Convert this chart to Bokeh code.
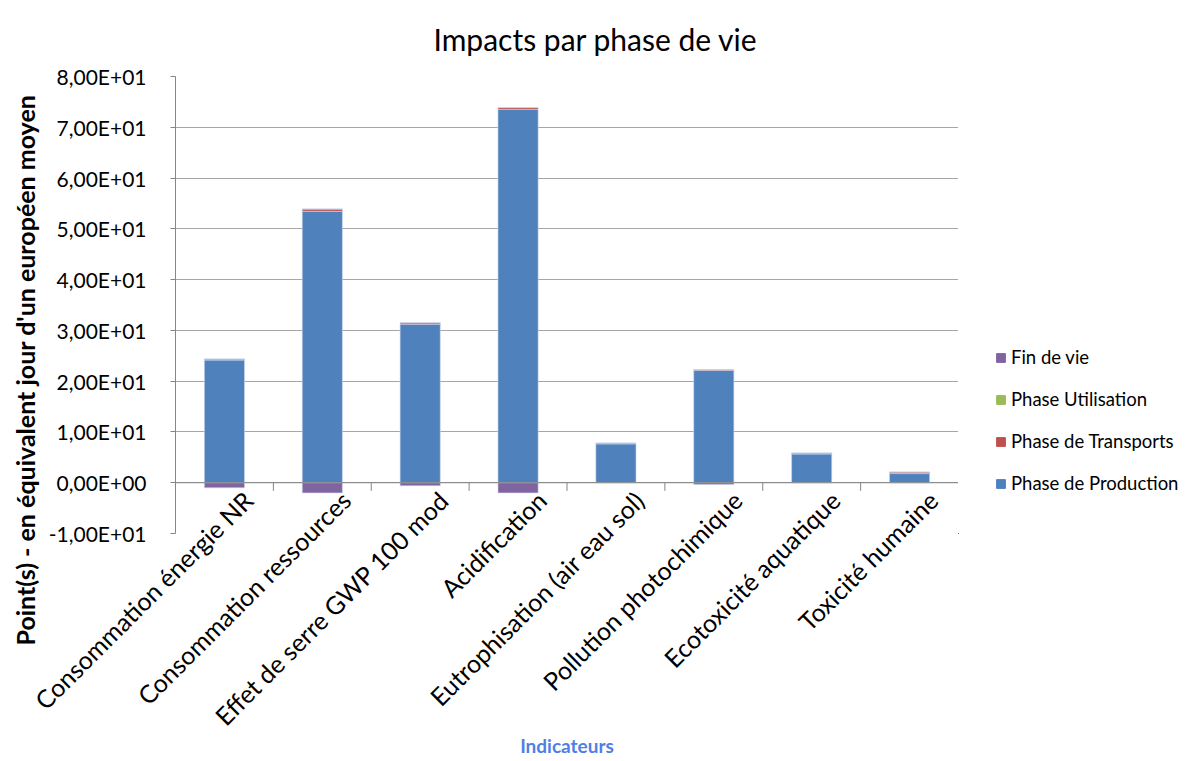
from math import pi
from bokeh.plotting import figure
from bokeh.layouts import row
from bokeh.models import (ColumnDataSource, Range1d, FixedTicker, Legend,
                          LegendItem, Title, Span)
from bokeh.embed import file_html
from bokeh.resources import INLINE

categories = ["Consommation énergie NR", "Consommation ressources", "Effet de serre GWP 100 mod",
              "Acidification", "Eutrophisation (air eau sol)", "Pollution photochimique",
              "Ecotoxicité aquatique", "Toxicité humaine"]
production = [24.15, 53.45, 31.2, 73.55, 7.65, 22.1, 5.65, 1.8]
transports = [0.2, 0.45, 0.3, 0.35, 0.15, 0.2, 0.2, 0.3]
utilisation = [0, 0, 0, 0, 0, 0, 0, 0]
fin_de_vie = [-1.0, -2.0, -0.6, -2.0, 0.0, -0.35, 0.0, 0.0]

series_names = ["Phase de Production", "Phase de Transports", "Phase Utilisation", "Fin de vie"]
series_colors = ["#4F81BD", "#C0504D", "#9BBB59", "#8064A2"]

y_ticks = [-10, 0, 10, 20, 30, 40, 50, 60, 70, 80]
y_tick_labels = ["-1,00E+01", "0,00E+00", "1,00E+01", "2,00E+01", "3,00E+01",
                 "4,00E+01", "5,00E+01", "6,00E+01", "7,00E+01", "8,00E+01"]

title_text = "Impacts par phase de vie"
y_label_text = "Point(s)  - en équivalent jour d'un européen moyen"
x_label_text = "Indicateurs"

FONT = "Lato"
n = len(categories)
xpos = [i + 0.5 for i in range(n)]          # category slot centres
bounds = list(range(n + 1))                  # category slot boundaries
label_shift = 0.24                           # labels end slightly right of centre
label_pos = [round(x + label_shift, 3) for x in xpos]

src = ColumnDataSource(dict(x=xpos, cat=categories, prod=production, trans=transports,
                            util=utilisation, fin=fin_de_vie, zero=[0] * n))
bsrc = ColumnDataSource(dict(b=bounds, zero=[0] * (n + 1)))

p = figure(width=958, height=761, x_range=Range1d(0, n),
           y_range=Range1d(-10, 80), output_backend="svg", toolbar_location=None,
           min_border_left=175, min_border_right=0, min_border_top=76, min_border_bottom=228)
p.outline_line_color = None
p.background_fill_color = "white"
p.border_fill_color = "white"

p.title.text = title_text
p.title.align = "left"
p.title.offset = 258
p.title.vertical_align = "top"
p.title.standoff = 36
p.title.text_font = FONT
p.title.text_font_style = "normal"
p.title.text_font_size = "30px"
p.title.text_color = "black"

stack = p.vbar_stack(["prod", "trans", "util"], x="x", width=0.41, source=src,
                     color=series_colors[:3], line_color="#C9D7EA", line_width=0.6)
neg = p.vbar(x="x", top="fin", bottom="zero", width=0.41, source=src,
             color=series_colors[3], line_color="#C9D7EA", line_width=0.6)

# y axis
p.xgrid.visible = False
p.ygrid.grid_line_color = "#A6A6A6"
p.ygrid.grid_line_width = 1
p.yaxis.ticker = FixedTicker(ticks=y_ticks)
p.yaxis.major_label_overrides = {t: l for t, l in zip(y_ticks, y_tick_labels)}
p.yaxis.major_label_text_font = FONT
p.yaxis.major_label_text_font_size = "21px"
p.yaxis.major_label_text_color = "black"
p.yaxis.axis_line_color = "#868686"
p.yaxis.major_tick_line_color = "#868686"
p.yaxis.major_tick_out = 5
p.yaxis.major_tick_in = 0
p.yaxis.minor_tick_line_color = None
p.yaxis.major_label_standoff = 24

ytitle = Title(text=y_label_text, align="left", offset=-112, standoff=12,
               text_font=FONT, text_font_style="bold", text_font_size="25px",
               text_color="black")
p.add_layout(ytitle, "left")

# category labels (axis below the frame, labels pulled up under the zero line)
xa = p.xaxis[0]
xa.ticker = FixedTicker(ticks=label_pos)
xa.major_label_overrides = {lp: c for lp, c in zip(label_pos, categories)}
xa.major_label_orientation = pi / 4
xa.major_label_text_font = FONT
xa.major_label_text_font_size = "25px"
xa.major_label_text_color = "black"
xa.major_label_standoff = -38
xa.major_tick_line_color = None
xa.major_tick_out = 0
xa.minor_tick_line_color = None
xa.axis_line_color = None
xa.axis_label = x_label_text
xa.axis_label_text_font = FONT
xa.axis_label_text_font_style = "bold"
xa.axis_label_text_font_size = "19px"
xa.axis_label_text_color = "#4F7FE6"
xa.axis_label_standoff = -10

# horizontal axis line at zero with tick marks between categories
p.add_layout(Span(location=0, dimension="width", line_color="#868686", line_width=1))
p.segment(x0="b", y0="zero", x1="b", y1=-1.6, source=bsrc, line_color="#868686", line_width=1)

# legend panel to the right of the chart (key glyphs use the same data, kept out of view)
p2 = figure(width=1192 - 958, height=761, x_range=Range1d(100, 101), y_range=Range1d(100, 101),
            x_axis_type=None, y_axis_type=None, output_backend="svg", toolbar_location=None,
            min_border=0)
p2.outline_line_color = None
p2.background_fill_color = "white"
p2.border_fill_color = "white"
keys = [p2.vbar(x="x", top=col, width=0.41, source=src, color=c)
        for col, c in zip(["prod", "trans", "util", "fin"], series_colors)]

items = [LegendItem(label=series_names[3], renderers=[keys[3]]),
         LegendItem(label=series_names[2], renderers=[keys[2]]),
         LegendItem(label=series_names[1], renderers=[keys[1]]),
         LegendItem(label=series_names[0], renderers=[keys[0]])]
legend = Legend(items=items, location=(37, 38), padding=0, margin=0,
                border_line_alpha=0, background_fill_alpha=0,
                glyph_width=11, glyph_height=11, label_standoff=5,
                label_text_font=FONT, label_text_font_size="18.5px", label_text_color="black",
                label_height=24, spacing=18)
p2.add_layout(legend)

layout = row(p, p2, spacing=0)
open("out.html", "w").write(file_html(layout, INLINE))
